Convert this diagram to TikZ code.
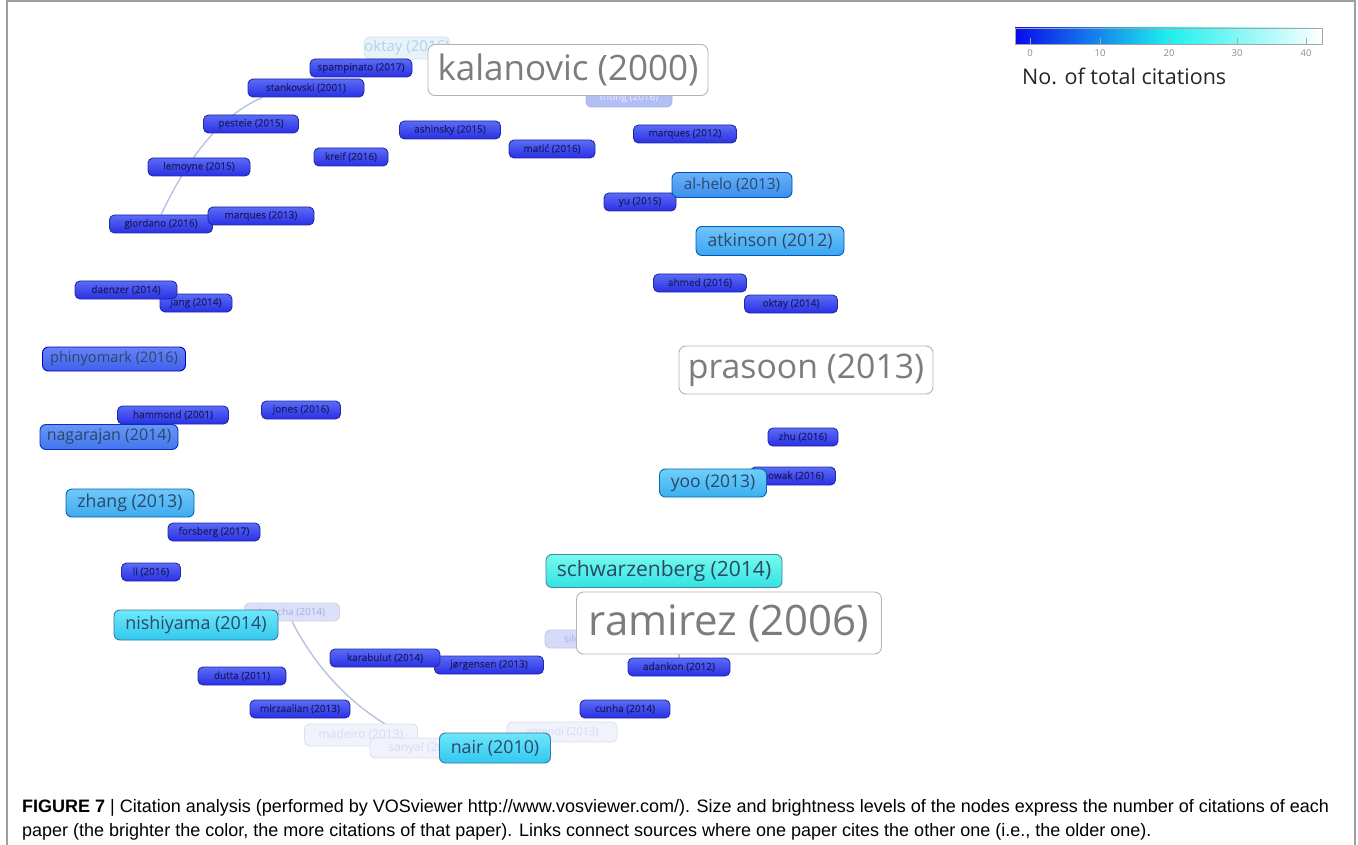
\documentclass[tikz,border=0pt]{standalone}
\usepackage{fontspec}
\setmainfont{Liberation Sans}
\newfontfamily\lab{Open Sans}
\newfontfamily\labsm[FakeBold=0.4]{Open Sans}
\newfontfamily\capfont{Liberation Sans}
\pgfdeclarelayer{paper}
\pgfdeclarelayer{links}
\pgfsetlayers{paper,links,main}
\definecolor{smtop}{HTML}{5A6CF6}
\definecolor{smbot}{HTML}{2A30E4}
\definecolor{smbd}{HTML}{2428A8}
\definecolor{smtx}{HTML}{1A1C66}
\definecolor{mdtx}{HTML}{2A4868}
\definecolor{bigbd}{HTML}{B4B4B4}
\definecolor{bigtx}{HTML}{7C7C7C}
\definecolor{linkc}{HTML}{B8C2E4}
\definecolor{fokf}{HTML}{E6F3FA}\definecolor{fokt}{HTML}{B4D2E6}
\definecolor{fthf}{HTML}{B2BEF4}\definecolor{ftht}{HTML}{EEF0FF}
\definecolor{flaf}{HTML}{DCE0F9}\definecolor{flat}{HTML}{A4ACE2}
\definecolor{fsif}{HTML}{D4DAF8}\definecolor{fsit}{HTML}{A8B0E6}
\definecolor{fbf}{HTML}{F0F2FC}\definecolor{fbt}{HTML}{D6DAF2}
\tikzset{
  base/.style={rounded corners=5, inner sep=0, line width=0.9},
  sm/.style={base, draw=smbd, top color=smtop, bottom color=smbot, text=smtx,
    minimum height=18, font=\labsm\fontsize{10}{11}\selectfont},
  md/.style={base, rounded corners=6, draw=#1!70!black, text=mdtx},
  big/.style={base, rounded corners=7, draw=bigbd, fill=white, text=bigtx},
  faint/.style={base, draw=#1!85!gray, fill=#1, font=\lab\fontsize{10}{11}\selectfont, minimum height=18},
  link/.style={draw=linkc, line width=1.4},
  captxt/.style={anchor=base west, inner sep=0, font=\capfont\fontsize{18}{20}\selectfont},
}
\begin{document}
\begin{tikzpicture}[x=1pt,y=-1pt]
\useasboundingbox (0,0) rectangle (1358,845);
\begin{pgfonlayer}{paper}
\fill[white] (0,0) rectangle (1358,845);
\draw[gray!75, line width=1.2] (7,845) -- (7,1) -- (1355,1) -- (1355,845);
\end{pgfonlayer}

% faded nodes
\node[faint=fokf, text=fokt, font=\lab\fontsize{15}{16}\selectfont, minimum width=68, minimum height=22] (fok) at (407,48) {oktay (2016)};
\node[faint=fthf, text=ftht, minimum width=86] (fth) at (629,98) {thong (2016)};
\node[faint=flaf, text=flat, minimum width=95] (fla) at (292,612) {lasecha (2014)};
\node[faint=fsif, text=fsit, minimum width=90] (fsi) at (590,639) {silva (2014)};
\node[faint=fbf, text=fbt, font=\lab\fontsize{12}{13}\selectfont, minimum width=113, minimum height=22] (fma) at (361,735) {madeiro (2013)};
\node[faint=fbf, text=fbt, font=\lab\fontsize{12}{13}\selectfont, minimum width=110, minimum height=20] (fsa) at (425,748) {sanyal (2014)};
\node[faint=fbf, text=fbt, font=\lab\fontsize{11}{12}\selectfont, minimum width=110, minimum height=20] (fam) at (562,732) {amendi (2013)};

% small nodes
\node[sm, minimum width=102] (spa) at (361,68) {spampinato (2017)};
\node[sm, minimum width=116] (sta) at (306,88) {stankovski (2001)};
\node[sm, minimum width=95] (pes) at (251,124) {pesteie (2015)};
\node[sm, minimum width=102] (lem) at (199,167) {lemoyne (2015)};
\node[sm, minimum width=103] (gio) at (161,224) {giordano (2016)};
\node[sm, minimum width=106] (mq13) at (261,216) {marques (2013)};
\node[sm, minimum width=74] (kre) at (351,157) {kreif (2016)};
\node[sm, minimum width=101] (ash) at (450,130) {ashinsky (2015)};
\node[sm, minimum width=86] (mat) at (552,149) {matić (2016)};
\node[sm, minimum width=103] (mq12) at (685,134) {marques (2012)};
\node[sm, minimum width=72] (yu) at (640,202) {yu (2015)};
\node[sm, minimum width=93] (ahm) at (700,283) {ahmed (2016)};
\node[sm, minimum width=93] (okt) at (791,304) {oktay (2014)};
\node[sm, minimum width=72] (jan) at (196,303) {jang (2014)};
\node[sm, minimum width=102] (dae) at (126,290) {daenzer (2014)};
\node[sm, minimum width=111] (ham) at (173,415) {hammond (2001)};
\node[sm, minimum width=79] (jon) at (301,410) {jones (2016)};
\node[sm, minimum width=92] (for) at (214,532) {forsberg (2017)};
\node[sm, minimum width=59] (li) at (151,572) {li (2016)};
\node[sm, minimum width=70] (zhu) at (803,437) {zhu (2016)};
\node[sm, minimum width=85] (now) at (793,476) {nowak (2016)};
\node[sm, minimum width=109] (jor) at (489,665) {jørgensen (2013)};
\node[sm, minimum width=110] (kar) at (385,658) {karabulut (2014)};
\node[sm, minimum width=102] (ada) at (679,667) {adankon (2012)};
\node[sm, minimum width=88] (dut) at (242,676) {dutta (2011)};
\node[sm, minimum width=100] (mir) at (300,709) {mirzaalian (2013)};
\node[sm, minimum width=90] (cun) at (625,709) {cunha (2014)};

% medium nodes
\node[md=blue!55!cyan, top color={rgb,255:red,104;green,176;blue,250}, bottom color={rgb,255:red,60;green,142;blue,238}, font=\lab\fontsize{15.3}{16}\selectfont, minimum width=120, minimum height=25] (alh) at (732,185) {al-helo (2013)};
\node[md=blue!50!cyan, top color={rgb,255:red,112;green,196;blue,250}, bottom color={rgb,255:red,58;green,166;blue,240}, font=\lab\fontsize{17.5}{18}\selectfont, minimum width=148, minimum height=29] (atk) at (770,241) {atkinson (2012)};
\node[md=blue, top color={rgb,255:red,104;green,130;blue,246}, bottom color={rgb,255:red,64;green,96;blue,236}, font=\lab\fontsize{14.6}{15}\selectfont, minimum width=143, minimum height=24] (phi) at (114,359) {phinyomark (2016)};
\node[md=blue!70!cyan, top color={rgb,255:red,104;green,150;blue,248}, bottom color={rgb,255:red,66;green,118;blue,236}, font=\lab\fontsize{16}{17}\selectfont, minimum width=138, minimum height=25] (nag) at (109,437) {nagarajan (2014)};
\node[md=blue!45!cyan, top color={rgb,255:red,112;green,200;blue,250}, bottom color={rgb,255:red,62;green,170;blue,240}, font=\lab\fontsize{17.7}{18}\selectfont, minimum width=128, minimum height=28] (zha) at (130,503) {zhang (2013)};
\node[md=blue!40!cyan, top color={rgb,255:red,112;green,206;blue,250}, bottom color={rgb,255:red,58;green,176;blue,240}, font=\lab\fontsize{17.4}{18}\selectfont, minimum width=107, minimum height=28] (yoo) at (713,483) {yoo (2013)};
\node[md=cyan!80!teal, top color={rgb,255:red,118;green,250;blue,240}, bottom color={rgb,255:red,52;green,226;blue,224}, font=\lab\fontsize{21}{22}\selectfont, minimum width=236, minimum height=33] (sch) at (664,571) {schwarzenberg (2014)};
\node[md=cyan!70!blue, top color={rgb,255:red,110;green,232;blue,250}, bottom color={rgb,255:red,50;green,200;blue,238}, font=\lab\fontsize{17.9}{18}\selectfont, minimum width=164, minimum height=30] (nis) at (196,625) {nishiyama (2014)};
\node[md=cyan!70!blue, top color={rgb,255:red,110;green,230;blue,250}, bottom color={rgb,255:red,48;green,200;blue,238}, font=\lab\fontsize{17.8}{18}\selectfont, minimum width=111, minimum height=30] (nai) at (495,748) {nair (2010)};

% big nodes
\node[big, font=\lab\fontsize{35}{37}\selectfont, minimum width=280, minimum height=51] (kal) at (568,70) {kalanovic (2000)};
\node[big, font=\lab\fontsize{33.8}{35}\selectfont, minimum width=254, minimum height=48] (pra) at (806,370) {prasoon (2013)};
\node[big, font=\lab\fontsize{42}{44}\selectfont, minimum width=305, minimum height=62] (ram) at (729,623) {ramirez (2006)};

% links
\begin{pgfonlayer}{links}
\draw[link] (gio.north) .. controls (185,165) and (215,118) .. ([xshift=15]sta.south west);
\draw[link] (fla.south) .. controls (322,680) and (372,728) .. (nai.west);
\draw[link] (ada.north) -- (ram.south -| ada.north);
\end{pgfonlayer}

% colour bar
\shade[left color={rgb,255:red,10;green,10;blue,236}, right color={rgb,255:red,30;green,240;blue,238}] (1015,28) rectangle (1169,44);
\shade[left color={rgb,255:red,30;green,240;blue,238}, right color=white] (1169,28) rectangle (1322,44);
\draw[gray!70, line width=0.8] (1015,28) rectangle (1322,44);
\foreach \xx/\vv in {1030/0,1100/10,1169/20,1237/30,1306/40}{
  \draw[gray!70, line width=0.7] (\xx,38) -- (\xx,45);
  \node[text=gray!90, font=\lab\fontsize{9.5}{10}\selectfont] at (\xx,53) {\vv};
}
\node[anchor=west, inner sep=0, text=black!85, font=\lab\fontsize{21.5}{23}\selectfont] (leg) at (1022,76) {No. of total citations};

% caption
\node[captxt] (cap1) at (22,812) {\textbf{FIGURE 7} | Citation analysis (performed by VOSviewer http://www.vosviewer.com/). Size and brightness levels of the nodes express the number of citations of each};
\node[captxt] (cap2) at (22,836) {paper (the brighter the color, the more citations of that paper). Links connect sources where one paper cites the other one (i.e., the older one).};
\end{tikzpicture}
\end{document}
